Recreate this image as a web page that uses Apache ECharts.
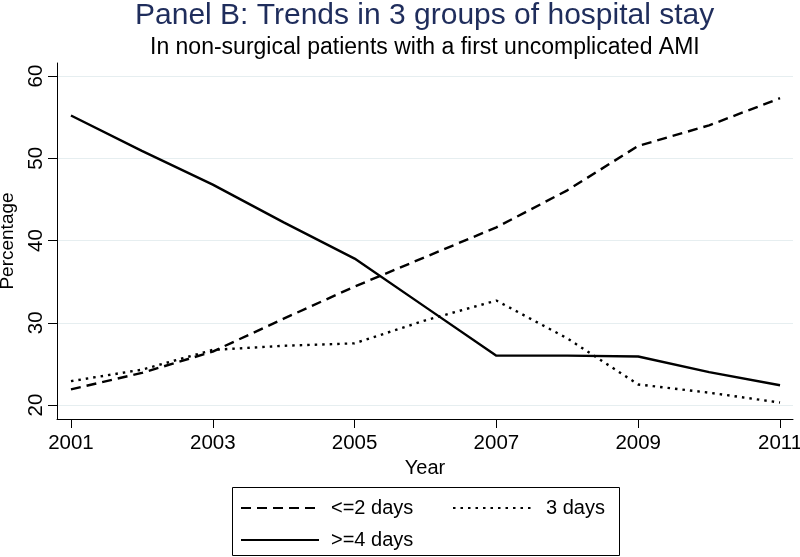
<!DOCTYPE html>
<html>
<head>
<meta charset="utf-8">
<script src="https://cdn.jsdelivr.net/npm/echarts@6/dist/echarts.min.js"></script>
<style>
html,body{margin:0;padding:0;background:#fff;}
#chart{width:800px;height:557px;}
</style>
</head>
<body>
<div id="chart"></div>
<script>
const years = [2001, 2002, 2003, 2004, 2005, 2006, 2007, 2008, 2009, 2010, 2011];
const le2days = [21.9, 23.9, 26.5, 30.5, 34.4, 38.0, 41.6, 46.1, 51.5, 54.0, 57.3];
const days3 = [22.9, 24.3, 26.7, 27.2, 27.5, 30.3, 32.7, 28.1, 22.5, 21.5, 20.3];
const ge4days = [55.2, 50.9, 46.8, 42.2, 37.8, 31.9, 26.0, 26.0, 25.9, 24.0, 22.4];
const xTicks = [2001, 2003, 2005, 2007, 2009, 2011];
const yTicks = [20, 30, 40, 50, 60];
const seriesNames = ['<=2 days', '3 days', '>=4 days'];
const titleText = 'Panel B: Trends in 3 groups of hospital stay';
const subtitleText = 'In non-surgical patients with a first uncomplicated AMI';

const FONT = 'Liberation Sans, Arial, sans-serif';
const zip = (vals) => years.map((y, i) => [y, vals[i]]);

// centre titles over the plot region (x = 425)
const ctx = document.createElement('canvas').getContext('2d');
function textWidth(txt, size) { ctx.font = size + 'px ' + FONT; return ctx.measureText(txt).width; }
const TITLE_SIZE = 30, SUB_SIZE = 23, CENTER_X = 425;

const legendCommon = {
  padding: 0, itemWidth: 78, itemHeight: 14,
  itemStyle: {opacity: 0, borderWidth: 0},
  textStyle: {fontFamily: FONT, fontSize: 20, color: '#000', padding: [0, 0, 0, 7]}
};

const chart = echarts.init(document.getElementById('chart'), null, {renderer: 'canvas'});
chart.setOption({
  backgroundColor: '#ffffff',
  animation: false,
  title: [
    {
      text: titleText,
      left: Math.round(CENTER_X - textWidth(titleText, TITLE_SIZE) / 2), top: 1,
      padding: 0,
      textStyle: {fontFamily: FONT, fontSize: TITLE_SIZE, fontWeight: 'normal', color: '#1f2d5c'}
    },
    {
      text: subtitleText,
      left: Math.round(CENTER_X - textWidth(subtitleText, SUB_SIZE) / 2), top: 36,
      padding: 0,
      textStyle: {fontFamily: FONT, fontSize: SUB_SIZE, fontWeight: 'normal', color: '#000'}
    }
  ],
  grid: {left: 57, right: 7, top: 63, bottom: 138, containLabel: false, outerBoundsMode: 'none'},
  xAxis: {
    type: 'value',
    min: 2000.803, max: 2011.183,
    name: 'Year', nameLocation: 'middle', nameGap: 38,
    nameTextStyle: {fontFamily: FONT, fontSize: 20, color: '#000'},
    axisLine: {show: true, lineStyle: {color: '#000', width: 1}},
    axisTick: {show: true, length: 9, inside: false, customValues: xTicks, lineStyle: {color: '#000'}},
    axisLabel: {customValues: xTicks, margin: 14, fontFamily: FONT, fontSize: 20.5, color: '#000', formatter: v => String(v)},
    splitLine: {show: false}
  },
  yAxis: {
    type: 'value',
    min: 18.30, max: 61.58,
    name: 'Percentage', nameLocation: 'middle', nameGap: 39.5, nameRotate: 90,
    nameTextStyle: {fontFamily: FONT, fontSize: 19, color: '#000'},
    axisLine: {show: true, lineStyle: {color: '#000', width: 1}},
    axisTick: {show: true, length: 9, customValues: yTicks, lineStyle: {color: '#000'}},
    axisLabel: {customValues: yTicks, rotate: 90, margin: 10, fontFamily: FONT, fontSize: 20.5, color: '#000'},
    splitLine: {show: true, lineStyle: {color: '#e6eef0', width: 1}}
  },
  legend: [
    Object.assign({data: [seriesNames[0]], left: 240, top: 498}, legendCommon),
    Object.assign({data: [seriesNames[1]], left: 452, top: 498}, legendCommon,
      {textStyle: {fontFamily: FONT, fontSize: 20, color: '#000', padding: [0, 0, 0, 10]}}),
    Object.assign({data: [seriesNames[2]], left: 240, top: 530}, legendCommon)
  ],
  graphic: [{
    type: 'rect', shape: {x: 232.5, y: 487.5, width: 387, height: 68},
    style: {fill: 'none', stroke: '#000', lineWidth: 1}, silent: true
  }],
  series: [
    {name: seriesNames[0], type: 'line', data: zip(le2days), symbol: 'none',
     lineStyle: {color: '#000', width: 2.4, type: [10, 6]}, itemStyle: {color: '#000'}},
    {name: seriesNames[1], type: 'line', data: zip(days3), symbol: 'none',
     lineStyle: {color: '#000', width: 2.4, type: [2.5, 5]}, itemStyle: {color: '#000'}},
    {name: seriesNames[2], type: 'line', data: zip(ge4days), symbol: 'none',
     lineStyle: {color: '#000', width: 2.4, type: 'solid'}, itemStyle: {color: '#000'}}
  ]
});
</script>
</body>
</html>
